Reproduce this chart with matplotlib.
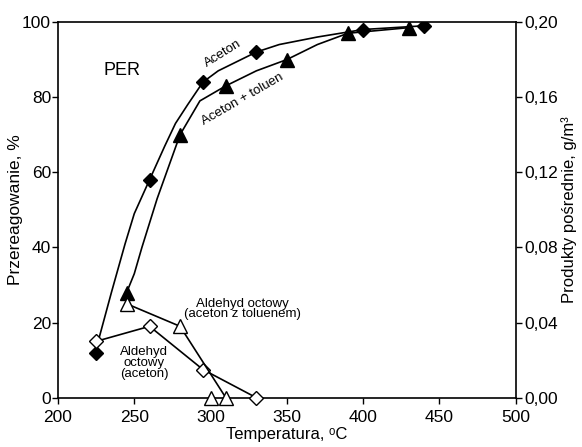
import numpy as np
import matplotlib.pyplot as plt

plt.rcParams['font.family'] = ['Liberation Sans', 'DejaVu Sans']

# measured points
T_ac = [225, 260, 295, 330, 400, 440]
X_ac = [12, 58, 84, 92, 98, 99]
T_act = [245, 280, 310, 350, 390, 430]
X_act = [28, 70, 83, 90, 97, 98.5]

# fitted curves
Tc_ac = [225, 235, 244, 250, 260, 270, 277, 285, 295, 305, 315, 330, 345, 370, 400, 440]
Xc_ac = [13, 28, 41, 49, 58, 67, 73, 78, 84, 87, 89, 92, 94, 96, 98, 99]
Tc_act = [245, 250, 255, 265, 280, 293, 310, 330, 350, 370, 390, 430]
Xc_act = [28, 33, 40, 53, 70, 79, 83, 87, 90, 94, 97, 98.5]

# intermediates (left-axis units)
T_ald = [225, 260, 295, 330]
Y_ald = [15, 19, 7.5, 0]
T_aldt = [245, 280, 310]
Y_aldt = [25, 19, 0]
T_aldt_extra = [300]
Y_aldt_extra = [0]

fig = plt.figure(figsize=(5.82, 4.47), dpi=100)
ax = fig.add_axes([58/582, 1-397.7/447, (515.7-58)/582, (397.7-22)/447])

lw = 1.2
ax.plot(Tc_ac, Xc_ac, 'k-', lw=lw)
ax.plot(Tc_act, Xc_act, 'k-', lw=lw)
ax.plot(T_ac, X_ac, 'kD', ms=7.5, ls='none')
ax.plot(T_act, X_act, 'k^', ms=10, ls='none')

ax.plot(T_ald, Y_ald, 'k-', lw=lw, marker='D', ms=7.5, mfc='white', clip_on=False, zorder=3)
ax.plot(T_aldt, Y_aldt, 'k-', lw=lw, marker='^', ms=10.5, mfc='white', clip_on=False, zorder=3)
ax.plot(T_aldt_extra, Y_aldt_extra, 'k^', ms=10.5, mfc='white', clip_on=False, zorder=3)

ax.set_xlim(200, 500)
ax.set_ylim(0, 100)
ax.set_xticks([200, 250, 300, 350, 400, 450, 500])
ax.set_yticks([0, 20, 40, 60, 80, 100])
ax.spines['top'].set_visible(False)
ax.spines['right'].set_visible(False)
ax.plot([200, 500], [100, 100], 'k-', lw=1.2, clip_on=False)
for s in ['left', 'bottom']:
    ax.spines[s].set_linewidth(1.2)
ax.tick_params(direction='out', length=4, width=1, labelsize=12.5)
ax.tick_params(axis='y', pad=1)
ax.tick_params(axis='x', pad=5)
ax.set_xlabel('Temperatura, ᵒC', fontsize=12)
ax.xaxis.set_label_coords(0.5, -0.078)
ax.set_ylabel('Przereagowanie, %', fontsize=12.5)
ax.yaxis.set_label_coords(-0.077, 0.5)

ax2 = ax.twinx()
ax2.set_ylim(0, 0.2)
ax2.set_yticks([0, 0.04, 0.08, 0.12, 0.16, 0.20])
ax2.set_yticklabels(['0,00', '0,04', '0,08', '0,12', '0,16', '0,20'])
for s in ['top', 'left', 'bottom']:
    ax2.spines[s].set_visible(False)
ax2.spines['right'].set_linewidth(1.2)
ax2.tick_params(direction='out', length=4, width=1, labelsize=12.5, pad=2)
ax2.set_ylabel('Produkty pośrednie, g/m³', fontsize=12)
ax2.yaxis.set_label_coords(1.1, 0.5)

ax.text(242, 87, 'PER', fontsize=13, ha='center', va='center')
ax.text(308, 91.5, 'Aceton', fontsize=9.5, ha='center', va='center', rotation=32)
ax.text(321, 79.5, 'Aceton + toluen', fontsize=9.5, ha='center', va='center', rotation=30)
ax.text(321, 23.6, 'Aldehyd octowy\n(aceton z toluenem)', fontsize=9.5, ha='center', va='center', linespacing=0.85)
ax.text(256.5, 9.2, 'Aldehyd\noctowy\n(aceton)', fontsize=9.5, ha='center', va='center', linespacing=0.85)

fig.savefig('out.png', dpi=100)
